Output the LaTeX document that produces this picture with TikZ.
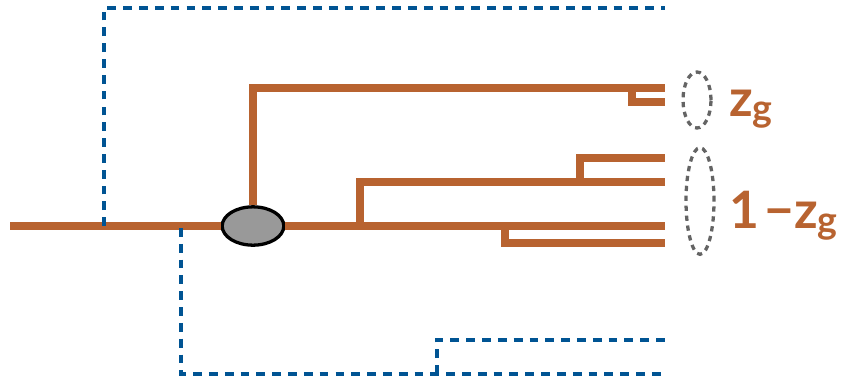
\documentclass[tikz,border=0pt]{standalone}
\usepackage{fontspec}
\setsansfont{Lato}
\usetikzlibrary{shapes.geometric}

\definecolor{branchc}{RGB}{184,99,48}
\definecolor{migrc}{RGB}{0,84,147}
\definecolor{ringc}{RGB}{100,100,100}

\tikzset{
  lineage/.style={branchc, line width=7pt},
  flow/.style={migrc, line width=3.2pt, dash pattern=on 7.5pt off 6pt},
  group/.style={ellipse, draw=ringc, line width=2.8pt, dash pattern=on 4.5pt off 4pt},
  lbl/.style={branchc, anchor=base west, inner sep=0pt,
    font=\sffamily\bfseries\fontsize{44}{44}\selectfont}
}
\newcommand{\subg}{{\fontsize{32}{32}\selectfont\raisebox{-0.3ex}{g}}}

\begin{document}
\begin{tikzpicture}[x=0.03cm, y=-0.03cm]
    \useasboundingbox (0,0) rectangle (841,383);

    % coalescent node
    \node[ellipse, draw=black, fill=gray!80, line width=2.8pt,
          minimum width=1.85cm, minimum height=1.15cm, inner sep=0pt] (anc) at (253,226) {};

    \coordinate (root) at (10,226);
    \coordinate (t1) at (665,88);
    \coordinate (t2) at (665,102);
    \coordinate (t3) at (665,158);
    \coordinate (t4) at (665,182);
    \coordinate (t5) at (665,226);
    \coordinate (t6) at (665,243);
    \coordinate (b1) at (632,88);
    \coordinate (b2) at (360,226);
    \coordinate (b3) at (580,182);
    \coordinate (b4) at (505,226);

    % gene tree
    \draw[lineage] (root) -- (anc.west);
    \draw[lineage] (anc.east) -- (t5);
    \draw[lineage] (anc.north) |- (t1);
    \draw[lineage] (b1) |- (t2);
    \draw[lineage] (b2) |- (t4);
    \draw[lineage] (b3) |- (t3);
    \draw[lineage] (b4) |- (t6);

    % population paths
    \coordinate (m1) at (104,226);
    \coordinate (m2) at (181,228);
    \coordinate (m3) at (437,374);
    \coordinate (e1) at (665,8);
    \coordinate (e2) at (665,374);
    \coordinate (e3) at (665,340);
    \draw[flow] (m1) |- (e1);
    \draw[flow] (m2) |- (e2);
    \draw[flow] (m3) |- (e3);

    % groups
    \node[group, minimum width=0.84cm, minimum height=1.68cm] (g1) at (697,100) {};
    \node[group, minimum width=0.84cm, minimum height=3.2cm] (g2) at (700,201) {};
    \node[lbl] (zg) at (729,116) {z\subg};
    \node[lbl] (oneminus) at (729,228) {1\hspace{0.1em}−z\subg};
\end{tikzpicture}
\end{document}
